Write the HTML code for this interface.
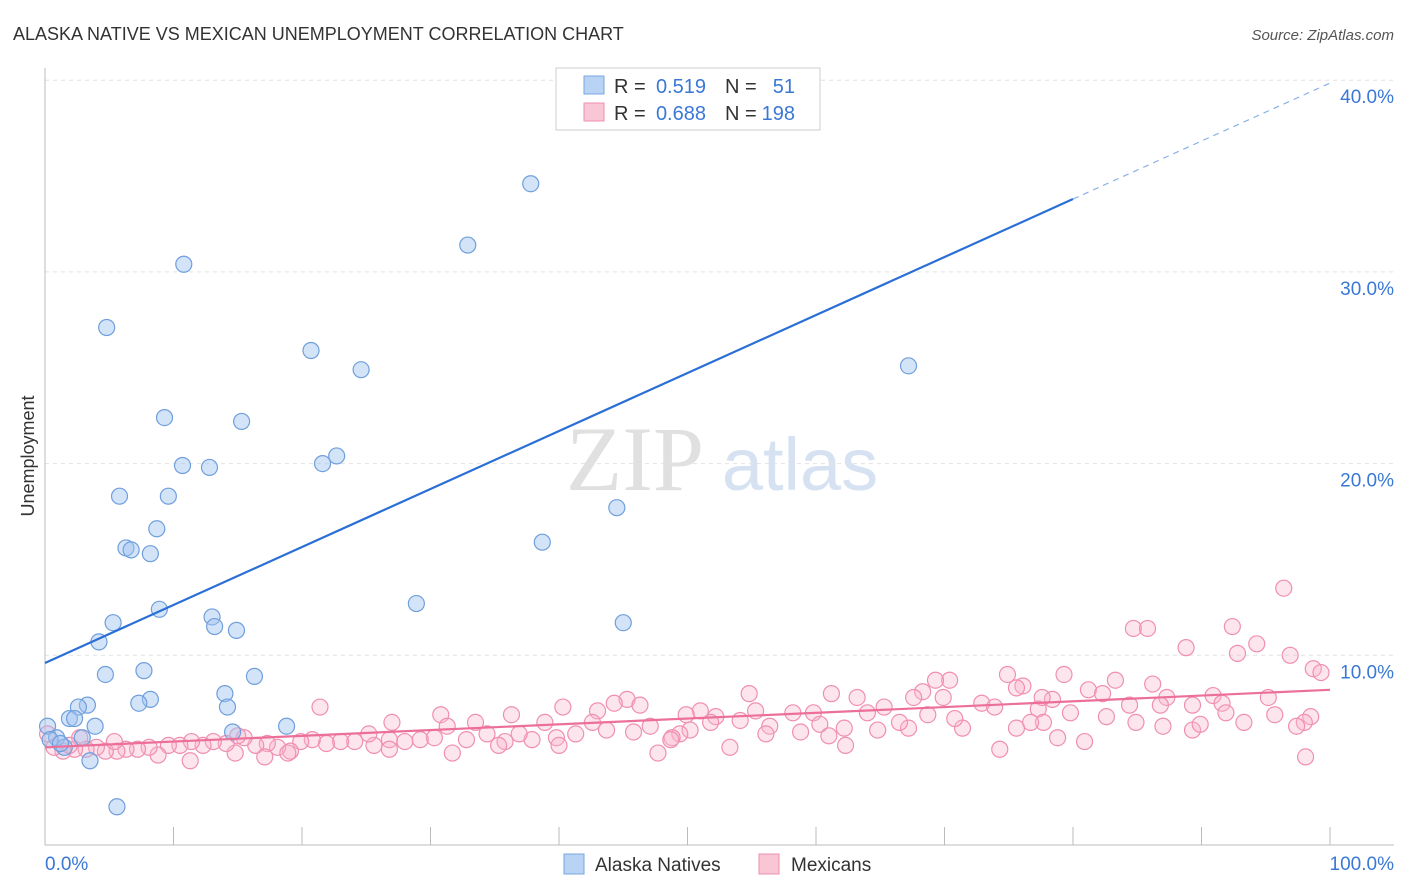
<!DOCTYPE html>
<html><head><meta charset="utf-8"><style>
body{margin:0;background:#fff;font-family:"Liberation Sans",sans-serif;}
svg{display:block}
</style></head><body>
<svg id="chart" width="1406" height="892" xmlns="http://www.w3.org/2000/svg">
<text x="13" y="40" font-size="18" fill="#333">ALASKA NATIVE VS MEXICAN UNEMPLOYMENT CORRELATION CHART</text>
<text x="1394" y="40" font-size="15" fill="#555" font-style="italic" text-anchor="end">Source: ZipAtlas.com</text>
<text transform="translate(34,456) rotate(-90)" font-size="18" fill="#333" text-anchor="middle">Unemployment</text>
<g><text x="635" y="490" font-size="92" font-family="Liberation Serif,serif" fill="#e0e0e0" text-anchor="middle">ZIP</text><text x="800" y="490" font-size="74" fill="#d6e2f2" text-anchor="middle">atlas</text></g>
<g id="grid"></g><g id="axes"></g><g id="marks"></g>
<g>
<rect x="556" y="68" width="264" height="62" fill="#fff" stroke="#ccc"/>
<rect x="584" y="76" width="20" height="18" fill="#b8d3f3" stroke="#7aa7e0"/>
<rect x="584" y="103" width="20" height="18" fill="#f9c6d6" stroke="#ee8fae"/>
<text x="614" y="93" font-size="20" fill="#333">R =</text>
<text x="706" y="93" font-size="20" fill="#3a78d6" text-anchor="end">0.519</text>
<text x="725" y="93" font-size="20" fill="#333">N =</text>
<text x="795" y="93" font-size="20" fill="#3a78d6" text-anchor="end">51</text>
<text x="614" y="120" font-size="20" fill="#333">R =</text>
<text x="706" y="120" font-size="20" fill="#3a78d6" text-anchor="end">0.688</text>
<text x="725" y="120" font-size="20" fill="#333">N =</text>
<text x="795" y="120" font-size="20" fill="#3a78d6" text-anchor="end">198</text>
</g>
<g>
<rect x="564" y="854" width="20" height="20" fill="#b8d3f3" stroke="#7aa7e0"/>
<text x="595" y="871" font-size="19" fill="#333">Alaska Natives</text>
<rect x="759" y="854" width="20" height="20" fill="#f9c6d6" stroke="#ee8fae"/>
<text x="791" y="871" font-size="19" fill="#333">Mexicans</text>
</g>
</svg>
<script>
const blueX=[37.8,32.9,10.8,4.8,20.7,24.6,67.2,9.3,15.3,10.7,12.8,22.7,21.6,5.8,9.6,44.5,8.7,38.7,6.3,6.7,8.2,28.9,8.9,5.3,13.0,13.2,14.9,45.0,4.2,7.7,4.7,16.3,8.2,7.3,14.0,14.2,3.3,2.6,1.9,2.3,3.9,18.8,14.6,0.2,0.9,0.4,2.9,1.5,3.5,5.6,1.2];
const blueY=[34.6,31.4,30.4,27.1,25.9,24.9,25.1,22.4,22.2,19.9,19.8,20.4,20.0,18.3,18.3,17.7,16.6,15.9,15.6,15.5,15.3,12.7,12.4,11.7,12.0,11.5,11.3,11.7,10.7,9.2,9.0,8.9,7.7,7.5,8.0,7.3,7.4,7.3,6.7,6.7,6.3,6.3,6.0,6.3,5.7,5.6,5.7,5.2,4.5,2.1,5.4];
const pinkX=[96.4,84.7,85.8,92.4,94.3,88.8,92.8,96.9,98.7,99.3,74.9,79.3,70.4,69.3,76.1,75.6,83.3,86.2,81.2,82.3,90.9,95.2,78.4,68.3,69.9,67.6,63.2,61.2,54.8,45.3,44.3,46.3,21.4,30.8,36.3,40.3,43.0,51.0,52.2,55.3,58.2,59.8,64.0,65.3,72.9,73.9,77.3,79.8,84.4,87.3,89.3,91.6,91.9,95.7,98.5,74.3,78.8,80.9,82.6,84.9,87.0,89.3,89.9,93.3,98.0,98.1,97.4,77.7,76.7,75.6,71.4,70.8,68.7,67.2,64.8,62.3,62.2,60.3,58.8,56.4,54.1,53.3,51.8,50.2,49.4,48.8,47.7,47.1,45.8,43.7,42.6,41.3,39.8,38.9,37.9,36.9,35.8,34.4,33.5,32.8,31.3,30.3,31.7,29.2,28.0,26.8,25.6,25.2,24.1,23.0,21.9,20.8,19.9,19.1,18.1,17.3,16.4,15.5,14.8,14.1,13.1,12.3,11.4,10.5,9.6,8.8,8.1,7.2,6.3,5.6,4.7,4.0,3.2,2.3,1.4,0.7,0.2,5.4,11.3,17.1,26.8,35.3,40.0,48.7,56.1,61.0,66.5,77.6,86.8,49.9,27.0,18.9,15.0,2.7,1.9];
const pinkY=[13.5,11.4,11.4,11.5,10.6,10.4,10.1,10.0,9.3,9.1,9.0,9.0,8.7,8.7,8.4,8.3,8.7,8.5,8.2,8.0,7.9,7.8,7.7,8.1,7.8,7.8,7.8,8.0,8.0,7.7,7.5,7.4,7.3,6.9,6.9,7.3,7.1,7.1,6.8,7.1,7.0,7.0,7.0,7.3,7.5,7.3,7.2,7.0,7.4,7.8,7.4,7.5,7.0,6.9,6.8,5.1,5.7,5.5,6.8,6.5,6.3,6.1,6.4,6.5,6.5,4.7,6.3,6.5,6.5,6.2,6.2,6.7,6.9,6.2,6.1,5.3,6.2,6.4,6.0,6.3,6.6,5.2,6.5,6.1,5.9,5.7,4.9,6.3,6.0,6.1,6.5,5.9,5.7,6.5,5.6,5.9,5.5,5.9,6.5,5.6,6.3,5.7,4.9,5.6,5.5,5.6,5.3,5.9,5.5,5.5,5.4,5.6,5.5,5.0,5.2,5.4,5.3,5.7,4.9,5.4,5.5,5.3,5.5,5.3,5.3,4.8,5.2,5.1,5.1,5.0,5.0,5.2,5.1,5.1,5.0,5.2,5.9,5.5,4.5,4.7,5.1,5.3,5.3,5.6,5.9,5.8,6.5,7.8,7.4,6.9,6.5,4.9,5.8,5.7,5.3];
const blueTrend=[9.6,33.8];
const pinkTrend=[5.2,8.2];
const yTicks=[10,20,30,40];
const yTickLabels=["10.0%","20.0%","30.0%","40.0%"];
const xTickCount=10;

const X=v=>45+v*12.85, Y=v=>847-v*19.17;
const NS="http://www.w3.org/2000/svg";
function mk(t,a,p){const e=document.createElementNS(NS,t);for(const k in a)e.setAttribute(k,a[k]);p.appendChild(e);return e;}
const grid=document.getElementById('grid'),axes=document.getElementById('axes'),marks=document.getElementById('marks');
yTicks.forEach((t,i)=>{
 const l=mk('line',{x1:45,x2:1394,y1:Y(t),y2:Y(t),stroke:'#e2e2e2','stroke-dasharray':'4,4'},grid);
 
 
 const tx=mk('text',{x:1394,y:Y(t)+23,'font-size':19,fill:'#3a78d6','text-anchor':'end'},axes);
 tx.textContent=yTickLabels[i];
 
 
});
const xa=mk('line',{x1:45,x2:1394,y1:845,y2:845,stroke:'#bbb'},axes);


const ya=mk('line',{x1:45,x2:45,y1:68,y2:845,stroke:'#bbb'},axes);


for(let i=0;i<=xTickCount;i++){const tk=mk('line',{x1:X(i*10),x2:X(i*10),y1:827,y2:845,stroke:'#bbb'},axes);
 
 }
const x0=mk('text',{x:45,y:870,'font-size':19,fill:'#3a78d6'},axes);x0.textContent='0.0%';


const x1=mk('text',{x:1394,y:870,'font-size':19,fill:'#3a78d6','text-anchor':'end'},axes);x1.textContent='100.0%';


pinkX.forEach((x,i)=>{const c=mk('circle',{cx:X(x),cy:Y(pinkY[i]),r:8,fill:'rgba(248,180,202,0.35)',stroke:'#f08fb0','stroke-width':1.2},marks);
 
 });
blueX.forEach((x,i)=>{const c=mk('circle',{cx:X(x),cy:Y(blueY[i]),r:8,fill:'rgba(160,196,240,0.45)',stroke:'#6f9fdc','stroke-width':1.2},marks);
 
 });
const bAt=x=>blueTrend[0]+(blueTrend[1]-blueTrend[0])*x/80;
const bl=mk('line',{x1:X(0),y1:Y(bAt(0)),x2:X(80),y2:Y(bAt(80)),stroke:'#2a6fd6','stroke-width':2.2},marks);


const bd=mk('line',{x1:X(80),y1:Y(bAt(80)),x2:X(100),y2:Y(bAt(100)),stroke:'#8ab0e6','stroke-width':1.2,'stroke-dasharray':'6,5'},marks);


const pl=mk('line',{x1:X(0),y1:Y(pinkTrend[0]),x2:X(100),y2:Y(pinkTrend[1]),stroke:'#ec6f9a','stroke-width':2.2},marks);


</script>
</body></html>
